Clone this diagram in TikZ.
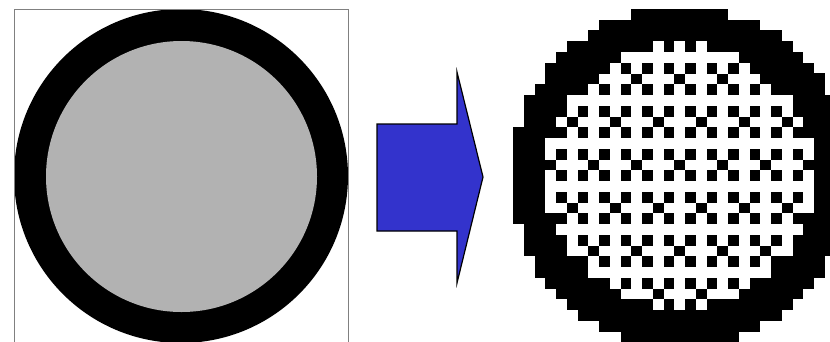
\documentclass[tikz,border=0pt]{standalone}
\definecolor{discgray}{RGB}{178,178,178}
\definecolor{arrowblue}{RGB}{51,51,204}
\definecolor{boxgray}{RGB}{128,128,128}
\begin{document}
\begin{tikzpicture}[x=1pt,y=-1pt,
  framebox/.style={draw=boxgray,line width=1pt},
  bigarrow/.style={draw=black,fill=arrowblue,line width=1.2pt,line join=miter},
  pixblack/.style={fill=black},
  pixwhite/.style={fill=white}]
\fill[white] (0,0) rectangle (830,341);
\useasboundingbox (0,0) rectangle (830,341);
\clip (0,0) rectangle (830,341);
% left panel
\fill[black] (181,176) circle (167);
\fill[discgray] (181.5,176.5) circle (135.5);
\draw[framebox] (14,346) -- (14,9) -- (348,9) -- (348,346);
% arrow
\draw[bigarrow] (377,124) -- (457,124) -- (457,72) -- (483,177) -- (457,283) -- (457,231) -- (377,231) -- cycle;
% pixel disc
\def\px{10.75}
\foreach \r/\L/\R in {0/11/19, 1/8/22, 2/7/24, 3/5/25, 4/4/26, 5/3/27, 6/3/28, 7/2/28,
  8/1/29, 9/1/29, 10/1/29, 11/0/30, 12/0/30, 13/0/30, 14/0/30, 15/0/30, 16/0/30,
  17/0/30, 18/0/30, 19/0/30, 20/1/29, 21/1/29, 22/1/29, 23/2/28, 24/2/28, 25/3/27,
  26/4/26, 27/5/25, 28/6/24, 29/8/22, 30/10/20}
  {\fill[pixblack] ({513+\px*\L},{9+\px*\r-0.2}) rectangle ({513+\px*(\R+1)},{9+\px*(\r+1)+0.2});}
\foreach \r/\a/\b in {3/13/17, 4/10/20, 5/9/21, 6/8/22, 7/7/23, 8/5/25, 9/5/25, 10/4/26,
  11/4/26, 12/3/27, 13/3/27, 14/3/27, 15/3/27, 16/3/27, 17/3/27, 18/3/27, 19/4/26,
  20/4/26, 21/5/25, 22/5/25, 23/7/23, 24/7/23, 25/9/21, 26/10/20, 27/13/17}
  {\fill[pixwhite] ({513+\px*\a},{9+\px*\r}) rectangle ({513+\px*(\b+1)},{9+\px*(\r+1)});
   \foreach \c in {\a,...,\b}{
     \pgfmathtruncatemacro\isdot{((mod(\r,2)==1) && (mod(\c,2)==0)) || ((mod(\r,8)==2) && (mod(\c,4)==1)) || ((mod(\r,8)==6) && (mod(\c,4)==3))}
     \ifnum\isdot=1
       \fill[pixblack] ({513+\px*\c},{9+\px*\r}) rectangle ({513+\px*(\c+1)},{9+\px*(\r+1)});
     \fi
   }
  }
\end{tikzpicture}
\end{document}
